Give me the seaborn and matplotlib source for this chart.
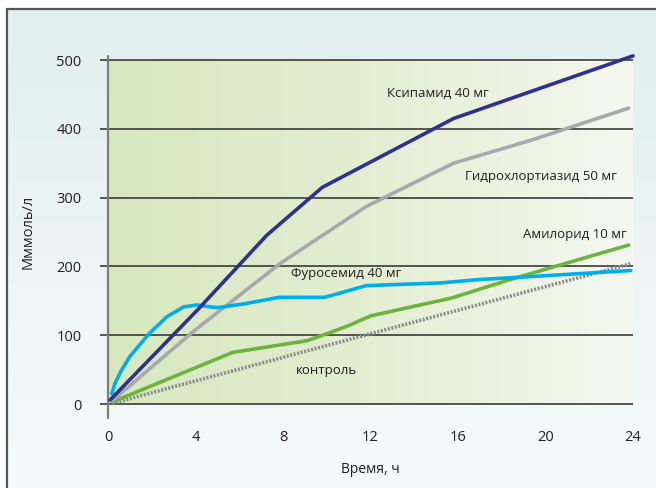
import numpy as np
import pandas as pd
import matplotlib
matplotlib.use("Agg")
import matplotlib.pyplot as plt
from matplotlib.colors import LinearSegmentedColormap
import seaborn as sns

# Cumulative sodium excretion, mmol/l, over 24 hours
xipamide_h = [0.1, 4.1, 7.25, 9.8, 15.8, 24.0]
xipamide = [6, 137, 245, 315, 415, 506]

hctz_h = [0.2, 4.0, 7.9, 11.8, 15.8, 19.4, 23.8]
hctz = [5, 108, 205, 287, 350, 384, 430]

amiloride_h = [0.2, 5.7, 9.1, 10.0, 11.0, 12.0, 15.7, 18.4, 23.8]
amiloride = [3, 75, 92, 102, 114, 128, 154, 181, 231]

furosemide_h = [0.17, 0.32, 0.6, 1.0, 1.9, 2.7, 3.45, 4.05, 4.7, 5.0, 6.3,
                7.8, 9.9, 11.8, 15.2, 17.0, 18.7, 23.9]
furosemide = [15, 30, 48, 69, 103, 127, 141, 144, 141, 140, 146,
              155, 155, 172, 176, 181, 184, 194]

control_h = [0.2, 23.9]
control = [1, 204]

x_ticks = [0, 4, 8, 12, 16, 20, 24]
y_ticks = [0, 100, 200, 300, 400, 500]

sns.set_style("white")
plt.rcParams["font.family"] = ["Open Sans", "DejaVu Sans"]

W, H = 656, 488
fig = plt.figure(figsize=(W / 100, H / 100), dpi=100)

# page background with a soft vertical tint
bg = fig.add_axes([0, 0, 1, 1], zorder=-10)
bg_cmap = LinearSegmentedColormap.from_list("page", ["#f6fafa", "#e1efee"])
bg.imshow(np.linspace(0, 1, 256)[:, None][::-1], aspect="auto", cmap=bg_cmap,
          extent=[0, 1, 0, 1])
bg.set_xlim(0, 1)
bg.set_ylim(0, 1)
bg.axis("off")
# white margin outside the frame
bx, by = 7 / W, 1 - 9 / H
bg.fill_between([0, 1], by, 1, color="white", zorder=1)
bg.fill_between([0, bx], 0, 1, color="white", zorder=1)
bg.plot([bx, 1], [by, by], color="#555555", lw=1.6, zorder=2)
bg.plot([bx, bx], [0, by], color="#555555", lw=1.6, zorder=2)

left, right = 108 / W, 633 / W
bottom, top = 1 - 404 / H, 1 - 60 / H
ax = fig.add_axes([left, bottom, right - left, top - bottom])
ax.patch.set_alpha(0)

# green panel fading to white towards the right
panel_cmap = LinearSegmentedColormap.from_list(
    "panel", ["#d7e8bf", "#e3eed2", "#f5f8f0"])
ax.imshow(np.linspace(0, 1, 256)[None, :], aspect="auto", cmap=panel_cmap,
          extent=[0, 24, 0, 500], zorder=0)

# horizontal rules with short stubs left of the axis
for v in y_ticks:
    ax.plot([-0.37, 24], [v, v], color="#2b2b2b", lw=1.1, clip_on=False,
            zorder=1, solid_capstyle="butt")
ax.plot([0, 0], [-20, 506], color="#7a7f78", lw=1.6, clip_on=False, zorder=1)

lw = 2.6
line_kw = dict(ax=ax, lw=lw, clip_on=False)
sns.lineplot(x=control_h, y=control, color="#8a8a8e",
             linestyle=(0, (0.55, 0.45)), zorder=3, **line_kw)
sns.lineplot(x=amiloride_h, y=amiloride, color="#6db33f", zorder=4, **line_kw)
sns.lineplot(x=hctz_h, y=hctz, color="#a7a9ac", zorder=4, **line_kw)
sns.lineplot(x=furosemide_h, y=furosemide, color="#00aeef", zorder=5,
             **line_kw)
sns.lineplot(x=xipamide_h, y=xipamide, color="#2e3192", zorder=6, **line_kw)

ax.set_xlim(0, 24)
ax.set_ylim(0, 500)
for s in ax.spines.values():
    s.set_visible(False)
ax.set_xticks(x_ticks)
ax.set_yticks(y_ticks)
ax.tick_params(axis="x", length=0, pad=19, labelsize=10.5, colors="#231f20")
ax.tick_params(axis="y", length=0, pad=19, labelsize=10.5, colors="#231f20")
ax.set_xlabel("Время, ч", fontsize=10, color="#231f20", labelpad=12)
ax.set_ylabel("Мммоль/л", fontsize=10.5, color="#231f20", labelpad=15)

lab = dict(fontsize=9.5, color="#231f20", ha="center", va="center", zorder=7)
ax.text(15.1, 451, "Ксипамид 40 мг", **lab)
ax.text(19.8, 330, "Гидрохлортиазид 50 мг", **lab)
ax.text(21.35, 246, "Амилорид 10 мг", **lab)
ax.text(10.9, 189, "Фуросемид 40 мг", **lab)
ax.text(9.97, 49, "контроль", **lab)

fig.savefig("out.png", dpi=100)
